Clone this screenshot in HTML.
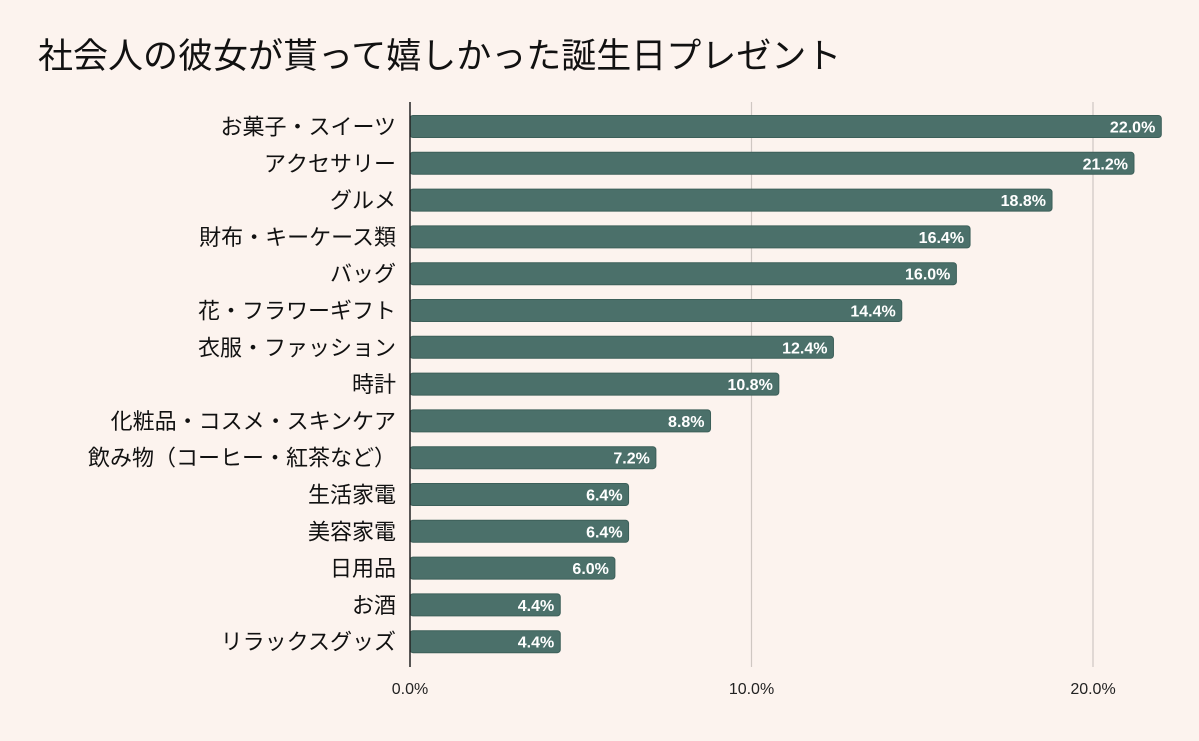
<!DOCTYPE html>
<html><head><meta charset="utf-8"><style>
body{margin:0;background:#fcf3ee;}
svg{display:block;font-family:"Liberation Sans","Noto Sans CJK JP",sans-serif;}
</style></head><body>
<svg id="c" width="1199" height="741">
<rect width="1199" height="741" fill="#fcf3ee"/>
<text x="38" y="68" font-size="35" fill="#111">社会人の彼女が貰って嬉しかった誕生日プレゼント</text>
</svg>
<script>
const categories=["お菓子・スイーツ","アクセサリー","グルメ","財布・キーケース類","バッグ","花・フラワーギフト","衣服・ファッション","時計","化粧品・コスメ・スキンケア","飲み物（コーヒー・紅茶など）","生活家電","美容家電","日用品","お酒","リラックスグッズ"];
const values=[22.0,21.2,18.8,16.4,16.0,14.4,12.4,10.8,8.8,7.2,6.4,6.4,6.0,4.4,4.4];
const ticks=[0,10,20];
const svg=document.getElementById('c');
const NS='http://www.w3.org/2000/svg';
const x=v=>410+v*34.15;
const y=i=>126.5+i*36.8;
function mk(t,a){const e=document.createElementNS(NS,t);for(const k in a)e.setAttribute(k,a[k]);svg.appendChild(e);return e;}
ticks.forEach(t=>{
  if(t>0){const l=mk('line',{x1:x(t),x2:x(t),y1:102,y2:667,stroke:'#cfc7c2','stroke-width':1.2});
  
  }
  const tx=mk('text',{x:x(t),y:694,'font-size':16,'text-anchor':'middle',fill:'#222'});
  tx.textContent=t.toFixed(1)+'%';
  
  
});
values.forEach((v,i)=>{
  const r=mk('rect',{x:x(0),y:y(i)-11,width:x(v)-x(0),height:22,rx:3,fill:'#4b706a',stroke:'#3c5f59','stroke-width':1});
  
  
  const t=mk('text',{x:x(v)-6,y:y(i)+6,'font-size':16,'font-weight':'bold','text-anchor':'end',fill:'#fff'});
  t.textContent=v.toFixed(1)+'%';
  
  
  const c=mk('text',{x:396,y:y(i)+8,'font-size':22,'text-anchor':'end',fill:'#111'});
  c.textContent=categories[i];
  
  
});
const ax=mk('line',{x1:410,x2:410,y1:102,y2:667,stroke:'#222','stroke-width':1.5});


</script>
</body></html>
